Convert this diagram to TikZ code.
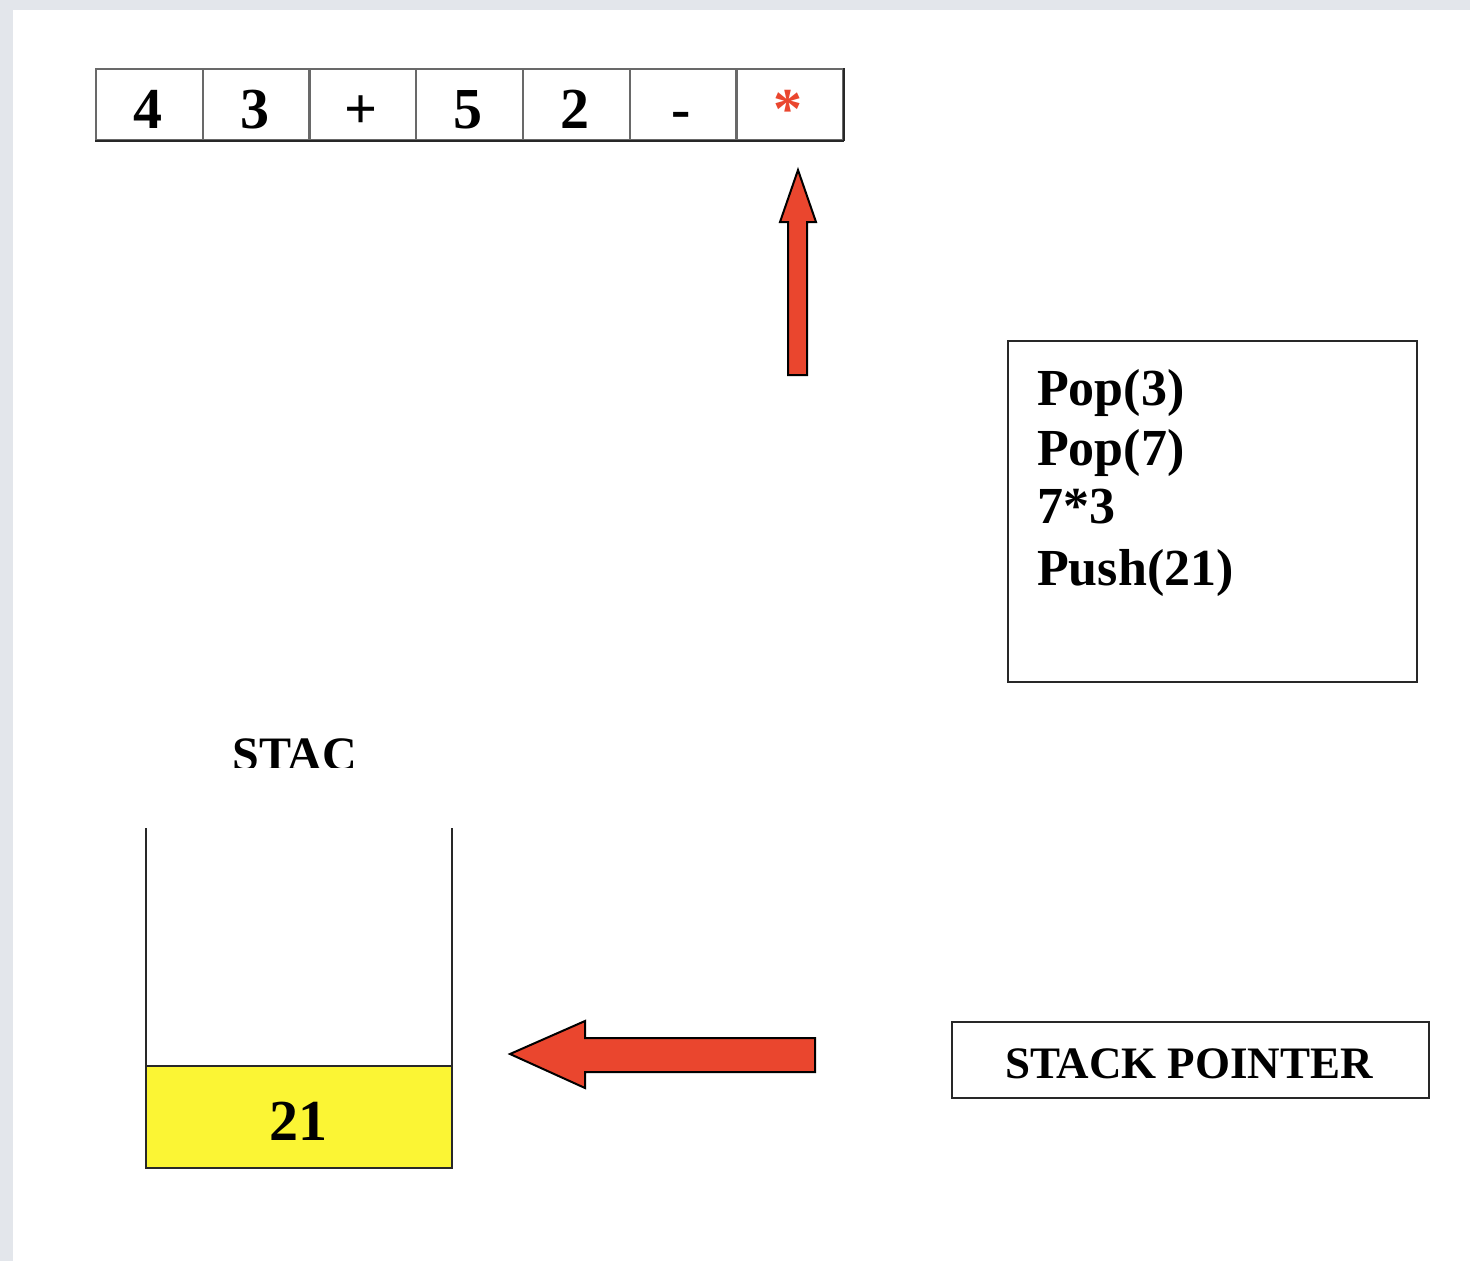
\documentclass[tikz,border=0pt]{standalone}
\usepackage{fontspec}
\setmainfont{Liberation Serif}
\definecolor{bggrey}{RGB}{227,230,235}
\definecolor{arrowred}{RGB}{234,70,46}
\definecolor{stackyellow}{RGB}{251,245,52}
\definecolor{edge}{RGB}{40,40,40}
\definecolor{celledge}{RGB}{105,105,105}
\tikzset{
  cell/.style={draw=celledge, line width=2pt, minimum width=107pt, minimum height=71pt, inner sep=0pt, anchor=north west},
  celltxt/.style={font=\fontsize{58}{60}\selectfont\bfseries, anchor=base},
  blockarrow/.style={draw=black, line width=2pt, fill=arrowred, line join=miter},
  boxline/.style={draw=edge, line width=2pt},
}
\begin{document}
\begin{tikzpicture}[x=1pt,y=-1pt]
\useasboundingbox (0,0) rectangle (1470,1261);
\fill[bggrey] (0,0) rectangle (1470,1261);
\fill[white] (13,10) rectangle (1470,1261);

% expression array
\foreach \i/\t in {0/4,1/3,2/+,3/5,4/2,5/-} {
  \node[cell] (c\i) at ({95+106.7*\i},68) {};
  \node[celltxt] (t\i) at ({95+106.7*\i+53},128) {\t};
}
\node[cell] (c6) at ({95+106.7*6},68) {};
\node[celltxt, text=arrowred] (t6) at ({95+106.7*6+53},128) {*};
\draw[edge, line width=2.2pt] (c0.south west) -- (c6.south east);
\draw[edge, line width=2pt] (c6.north east) -- (c6.south east);

% up arrow
\draw[blockarrow] (788,375) -- (788,222) -- (780,222) -- (798,170) -- (816,222) -- (807,222) -- (807,375) -- cycle;

% operations box
\node[boxline, minimum width=409pt, minimum height=341pt, anchor=north west] (ops) at (1007,340) {};
\begin{scope}[every node/.style={font=\fontsize{52}{56}\selectfont\bfseries, anchor=base west, inner sep=0pt}]
\node (l1) at (1037,405) {Pop(3)};
\node (l2) at (1037,465) {Pop(7)};
\node (l3) at (1037,523) {7*3};
\node (l4) at (1037,585) {Push(21)};
\end{scope}

% STAC label (clipped)
\begin{scope}
\clip (150,700) rectangle (450,767);
\node[font=\fontsize{48}{50}\selectfont\bfseries, anchor=base, inner sep=0pt] (stac) at (295,770) {STAC};
\end{scope}

% stack
\fill[stackyellow] (146,1066) rectangle (452,1168);
\draw[boxline] (146,828) -- (146,1168) -- (452,1168) -- (452,828);
\draw[boxline] (146,1066) -- (452,1066);
\node[celltxt] (val) at (298,1140) {21};

% left arrow
\draw[blockarrow] (815,1038) -- (585,1038) -- (585,1021) -- (510,1054) -- (585,1088) -- (585,1072) -- (815,1072) -- cycle;

% stack pointer box
\node[boxline, minimum width=477pt, minimum height=76pt, anchor=north west] (sp) at (951,1021) {};
\node[font=\fontsize{45}{48}\selectfont\bfseries, anchor=base, inner sep=0pt] (spt) at (1189,1078) {STACK POINTER};
\end{tikzpicture}
\end{document}
